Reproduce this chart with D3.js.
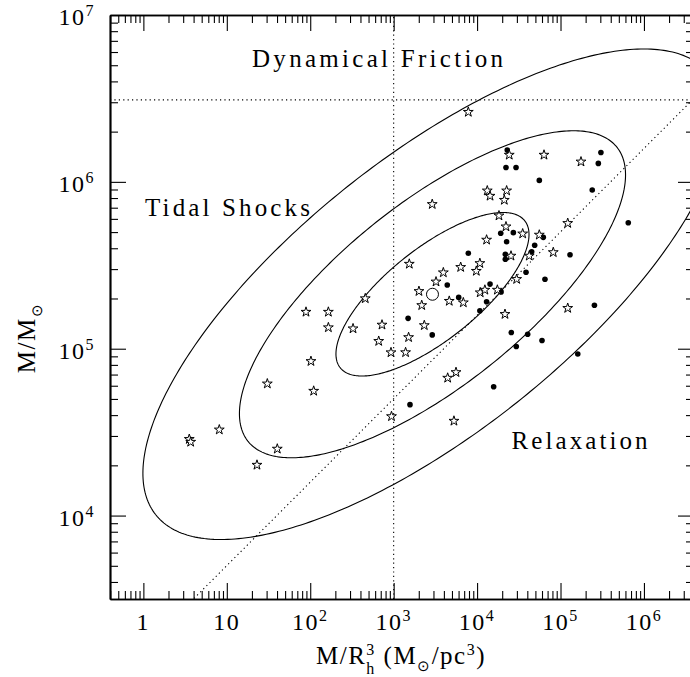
<!DOCTYPE html>
<html>
<head>
<meta charset="utf-8">
<script src="https://cdn.jsdelivr.net/npm/d3@7"></script>
<style>
body { margin: 0; background: #fff; }
text { font-family: "Liberation Serif", "Times New Roman", serif; fill: #000; }
</style>
</head>
<body>
<svg id="chart" width="690" height="677"></svg>
<script>
// values: x = M/R_h^3 (Msun/pc^3), y = M (Msun)
var starX = [24300, 63400, 176000, 13250, 22600, 14300, 21200, 2900, 18300, 22200, 35200, 55700, 122000,
    13000, 25500, 42200, 81900, 1540, 10800, 9790, 6360, 3940, 3220, 29800, 2010, 10900, 12400, 17500,
    4640, 6840, 2170, 21600, 122000, 457, 89, 165, 165, 326, 725, 662, 929, 1390, 1510, 2330,
    102, 30.6, 110, 942, 5280, 4440, 5590, 8.13, 3.55, 3.69, 40.3, 23.0, 7850];
var starY = [1.45e6, 1.45e6, 1.32e6, 8.85e5, 8.85e5, 8.23e5, 7.78e5, 7.34e5, 6.27e5, 5.39e5, 4.89e5, 4.81e5, 5.65e5,
    4.49e5, 3.60e5, 3.60e5, 3.78e5, 3.22e5, 3.25e5, 2.92e5, 3.08e5, 2.86e5, 2.52e5, 2.61e5, 2.21e5, 2.17e5, 2.25e5, 2.25e5,
    1.93e5, 1.89e5, 1.82e5, 1.61e5, 1.75e5, 2.00e5, 1.66e5, 1.66e5, 1.34e5, 1.32e5, 1.39e5, 1.11e5, 9.49e4, 9.50e4, 1.17e5, 1.38e5,
    8.41e4, 6.17e4, 5.58e4, 3.93e4, 3.69e4, 6.68e4, 7.22e4, 3.27e4, 2.87e4, 2.76e4, 2.51e4, 2.01e4, 2.62e6];

var dotX = [23000, 305000, 284000, 22200, 29300, 55700, 240000, 649000, 19200, 27200,
    22600, 62200, 49000, 45100, 7850, 21800, 21800, 130000, 38600, 65100,
    14300, 4390, 6020, 19400, 13000, 10800, 255000, 1490, 2900, 25700,
    40400, 29500, 60000, 161000, 15800, 1570];
var dotY = [1.55e6, 1.50e6, 1.29e6, 1.22e6, 1.22e6, 1.02e6, 8.94e5, 5.69e5, 4.92e5, 4.96e5,
    4.38e5, 4.65e5, 4.17e5, 3.81e5, 3.73e5, 3.68e5, 3.44e5, 3.66e5, 2.87e5, 2.61e5,
    2.44e5, 2.41e5, 2.03e5, 2.19e5, 1.91e5, 1.69e5, 1.82e5, 1.52e5, 1.21e5, 1.25e5,
    1.22e5, 1.03e5, 1.12e5, 9.30e4, 5.92e4, 4.62e4];

// mean point and the 1,2,3 sigma ellipses (log space)
var meanPoint = [2920, 2.12e5];
var sigmaDex = [1.157, 0.490];
var rhoXY = 0.73;
var sigmaLevels = [1, 2, 3];

// boundary lines
var frictionMass = 3.1e6;
var densityCut = 1e3;
var relaxNorm = 1585;
var relaxSlope = 0.5;

var xTicks = [1, 10, 1e2, 1e3, 1e4, 1e5, 1e6];
var xTickBase = ["1", "10", "10", "10", "10", "10", "10"];
var xTickExp = ["", "", "2", "3", "4", "5", "6"];
var yTicks = [1e4, 1e5, 1e6, 1e7];
var yTickBase = ["10", "10", "10", "10"];
var yTickExp = ["4", "5", "6", "7"];

var regionLabels = ["Dynamical Friction", "Tidal Shocks", "Relaxation"];

var plotLeft = 110, plotTop = 15, plotSize = 584;
var svg = d3.select("#chart");

var x = d3.scaleLog().domain([Math.pow(10, -0.4), Math.pow(10, 6.6)]).range([plotLeft, plotLeft + plotSize]);
var y = d3.scaleLog().domain([Math.pow(10, 3.5), 1e7]).range([plotTop + plotSize, plotTop]);

svg.append("clipPath").attr("id", "clip")
    .append("rect").attr("x", plotLeft).attr("y", plotTop).attr("width", plotSize).attr("height", plotSize);
var plot = svg.append("g").attr("clip-path", "url(#clip)");

//Ellipses
var line = d3.line().x(function(d){ return x(d[0]); }).y(function(d){ return y(d[1]); });
var lcx = Math.log10(meanPoint[0]), lcy = Math.log10(meanPoint[1]);
sigmaLevels.forEach(function(k){
    var pts = [];
    for (var i = 0; i < 360; i++) {
        var t = i / 360 * 2 * Math.PI;
        var u = k * sigmaDex[0] * Math.cos(t);
        var v = k * sigmaDex[1] * (rhoXY * Math.cos(t) + Math.sqrt(1 - rhoXY * rhoXY) * Math.sin(t));
        pts.push([Math.pow(10, lcx + u), Math.pow(10, lcy + v)]);
    }
    plot.append("path").attr("d", line.curve(d3.curveLinearClosed)(pts))
        .attr("fill", "none").attr("stroke", "#000").attr("stroke-width", 1.1);
});

//Dotted boundaries
var xd = x.domain(), yd = y.domain();
var straight = d3.line().x(function(d){ return x(d[0]); }).y(function(d){ return y(d[1]); });
function dotted(p) {
    plot.append("path").attr("d", straight(p))
        .attr("fill", "none").attr("stroke", "#000").attr("stroke-width", 1.1)
        .attr("stroke-dasharray", "1.2,3.2");
}
dotted([[xd[0], frictionMass], [xd[1], frictionMass]]);
dotted([[densityCut, yd[0]], [densityCut, yd[1]]]);
dotted([[xd[0], relaxNorm * Math.pow(xd[0], relaxSlope)], [xd[1], relaxNorm * Math.pow(xd[1], relaxSlope)]]);

//Points
plot.selectAll(".dot").data(dotX).enter().append("circle")
    .attr("class", "dot")
    .attr("cx", function(d){ return x(d); })
    .attr("cy", function(d, i){ return y(dotY[i]); })
    .attr("r", 2.8).attr("fill", "#000");

var star = d3.symbol().type(d3.symbolStar).size(30);
plot.selectAll(".star").data(starX).enter().append("path")
    .attr("class", "star")
    .attr("d", star)
    .attr("transform", function(d, i){ return "translate(" + x(d) + "," + y(starY[i]) + ")"; })
    .attr("fill", "#fff").attr("stroke", "#000").attr("stroke-width", 1);

plot.append("circle").attr("cx", x(meanPoint[0])).attr("cy", y(meanPoint[1]))
    .attr("r", 6).attr("fill", "none").attr("stroke", "#000").attr("stroke-width", 1);

//Axes, ticks inward on all four sides
function minors(scale) {
    var d = scale.domain(), out = [];
    for (var e = Math.floor(Math.log10(d[0])); e <= Math.ceil(Math.log10(d[1])); e++) {
        for (var m = 2; m <= 9; m++) {
            var v = m * Math.pow(10, e);
            if (v >= d[0] && v <= d[1]) out.push(v);
        }
    }
    return out;
}
var xMinor = minors(x), yMinor = minors(y);

function axisPair(maker, scale, tr, major, minor) {
    var g = svg.append("g").attr("transform", tr);
    g.append("g").call(maker(scale).tickValues(major).tickSize(16).tickSizeOuter(0).tickFormat(""));
    g.append("g").call(maker(scale).tickValues(minor).tickSize(8).tickSizeOuter(0).tickFormat(""));
    g.selectAll(".domain").attr("stroke-width", 1.7);
    g.selectAll(".tick line").attr("stroke-width", 1.1);
}
axisPair(d3.axisTop, x, "translate(0," + (plotTop + plotSize) + ")", xTicks, xMinor);
axisPair(d3.axisBottom, x, "translate(0," + plotTop + ")", xTicks, xMinor);
axisPair(d3.axisRight, y, "translate(" + plotLeft + ",0)", yTicks, yMinor);
axisPair(d3.axisLeft, y, "translate(" + (plotLeft + plotSize) + ",0)", yTicks, yMinor);

//Tick labels
xTicks.forEach(function(v, i){
    var t = svg.append("text").attr("x", x(v)).attr("y", 630)
        .attr("text-anchor", "middle").style("font-size", "24px").style("letter-spacing", "1.5px");
    t.append("tspan").text(xTickBase[i]);
    if (xTickExp[i]) t.append("tspan").attr("dy", -9).style("font-size", "16px").text(xTickExp[i]);
});
yTicks.forEach(function(v, i){
    var t = svg.append("text").attr("x", 95).attr("y", y(v) + 10)
        .attr("text-anchor", "end").style("font-size", "24px").style("letter-spacing", "1.5px");
    t.append("tspan").text(yTickBase[i]);
    t.append("tspan").attr("dy", -9).style("font-size", "16px").text(yTickExp[i]);
});

//Region labels
svg.append("text").attr("x", 252).attr("y", 66.5).style("font-size", "25px")
    .attr("textLength", 251).attr("lengthAdjust", "spacing").text(regionLabels[0]);
svg.append("text").attr("x", 145).attr("y", 215.5).style("font-size", "25px")
    .attr("textLength", 165).attr("lengthAdjust", "spacing").text(regionLabels[1]);
svg.append("text").attr("x", 511.5).attr("y", 448.5).style("font-size", "25px")
    .attr("textLength", 136).attr("lengthAdjust", "spacing").text(regionLabels[2]);

//Axis titles
var xl = svg.append("text").attr("x", 401).attr("y", 664)
    .attr("text-anchor", "middle").style("font-size", "25px").style("letter-spacing", "1.5px");
xl.append("tspan").text("M/R");
xl.append("tspan").attr("dy", -9).style("font-size", "16px").text("3");
xl.append("tspan").attr("dx", -9.5).attr("dy", 19).style("font-size", "16px").text("h");
xl.append("tspan").attr("dy", -10).text(" (M");
xl.append("tspan").attr("dy", 7).style("font-size", "15px").text("\u2299");
xl.append("tspan").attr("dy", -7).text("/pc");
xl.append("tspan").attr("dy", -9).style("font-size", "16px").text("3");
xl.append("tspan").attr("dy", 9).text(")");

var yl = svg.append("text").attr("transform", "translate(35,338) rotate(-90)")
    .attr("text-anchor", "middle").style("font-size", "25px").style("letter-spacing", "1.5px");
yl.append("tspan").text("M/M");
yl.append("tspan").attr("dy", 7).style("font-size", "15px").text("\u2299");
</script>
</body>
</html>
